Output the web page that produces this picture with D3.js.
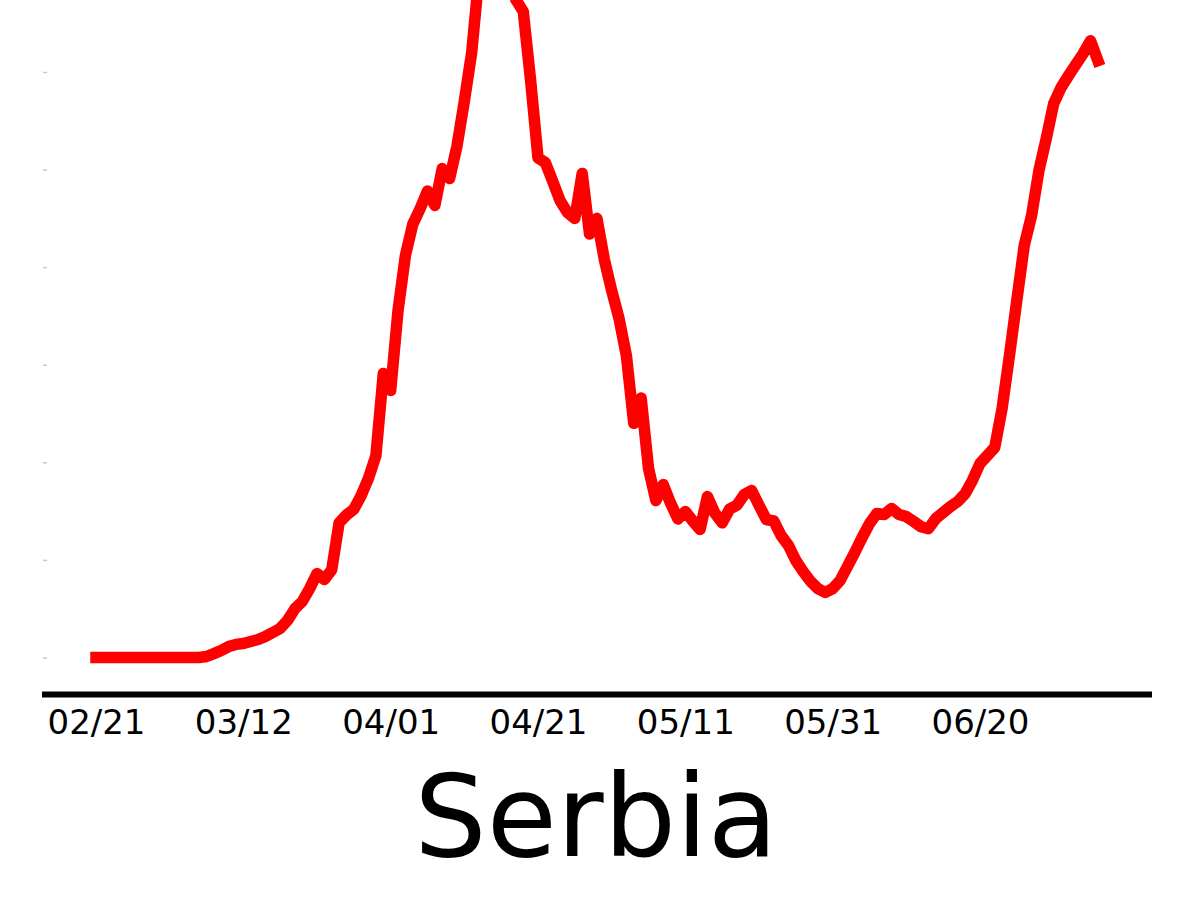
<!DOCTYPE html>
<html>
<head>
<meta charset="utf-8">
<script src="https://cdn.jsdelivr.net/npm/d3@7"></script>
<style>
	body { margin: 0; background: #fff; }
	svg { display: block; }
</style>
</head>
<body>
<div id="chart"></div>
<script>
// daily values, one per day starting 02/21
var startDate = "2020-02-21";
var values = [
	0, 0, 0, 0, 0, 0, 0, 0, 0, 0,
	0, 0, 0, 0, 0, 0.5, 2, 3.6, 5.6, 6.7,
	7.2, 8.2, 9.2, 10.8, 12.8, 14.9, 19, 25, 28.7, 35.3,
	43, 40, 45, 69, 73, 76, 83, 92, 103.5, 145.5,
	136.8, 177.8, 206, 222, 230, 239, 231.6, 250.5, 245.4, 262,
	285, 310, 350, 380, 395, 385, 362, 337, 331, 295.6,
	256, 253.6, 244, 234, 228, 225, 248, 217, 225, 204,
	188, 173.7, 154.7, 120, 133, 97, 80.4, 88.6, 79, 71,
	74.8, 70, 65.6, 82.5, 74, 69, 76, 78, 83.5, 85.6,
	78, 70.7, 70, 62.5, 57.4, 49.7, 44, 39, 35.3, 33.3,
	35.3, 39.4, 46.6, 53.8, 61.5, 68.6, 73.8, 73.3, 76.3, 73.3,
	72.2, 69.7, 67, 66, 71.2, 74.3, 77.4, 80, 84, 91,
	99.4, 103.5, 107.6, 127.6, 154.7, 183, 211, 226.4, 249.5, 266,
	283.8, 292, 298, 303.8, 309.4, 316, 305.8
];
var xTickLabels = ["02/21", "03/12", "04/01", "04/21", "05/11", "05/31", "06/20"];
var yTicks = [0, 50, 100, 150, 200, 250, 300];
var title = "Serbia";

var svgWidth = 1200;
var svgHeight = 900;

var svg = d3.select("#chart")
	.append("svg")
	.attr("width", svgWidth)
	.attr("height", svgHeight);

var parseDate = d3.timeParse("%Y-%m-%d");
var day0 = parseDate(startDate);
var data = values.map(function(v, i) {
	return { date: d3.timeDay.offset(day0, i), value: v };
});

var tickDates = xTickLabels.map(function(t) {
	return d3.timeParse("%Y-%m/%d")("2020-" + t);
});

var xScale = d3.scaleTime()
	.domain([tickDates[0], tickDates[tickDates.length - 1]])
	.range([96, 980]);

var yScale = d3.scaleLinear()
	.domain([0, 300])
	.range([657.5, 72]);

// faint y ticks, no labels
var yAxis = svg.append("g")
	.attr("transform", "translate(47,0)")
	.call(d3.axisLeft(yScale).tickValues(yTicks).tickSize(4).tickFormat(""));
yAxis.select(".domain").remove();
yAxis.selectAll("line").attr("stroke", "#c8c8c8").attr("stroke-width", 1.5);

// line
var line = d3.line()
	.x(d => xScale(d.date))
	.y(d => yScale(d.value));

svg.append("path")
	.datum(data)
	.attr("d", line)
	.attr("fill", "none")
	.attr("stroke", "#ff0000")
	.attr("stroke-width", 11.5)
	.attr("stroke-linejoin", "round")
	.attr("stroke-linecap", "square");

// x axis
var xAxis = svg.append("g")
	.attr("transform", "translate(0,694.5)")
	.call(d3.axisBottom(xScale)
		.tickValues(tickDates)
		.tickSize(0)
		.tickPadding(0)
		.tickFormat(d3.timeFormat("%m/%d")));

xAxis.select(".domain")
	.attr("d", "M42,0H1152")
	.attr("stroke", "#000")
	.attr("stroke-width", 6);

xAxis.selectAll("text")
	.attr("y", 39)
	.attr("dy", 0)
	.attr("fill", "#000")
	.style("font-family", "DejaVu Sans")
	.style("font-size", "34px");

// title
svg.append("text")
	.attr("x", 596)
	.attr("y", 856)
	.attr("text-anchor", "middle")
	.style("font-family", "DejaVu Sans")
	.style("font-size", "114px")
	.attr("fill", "#000")
	.text(title);
</script>
</body>
</html>
